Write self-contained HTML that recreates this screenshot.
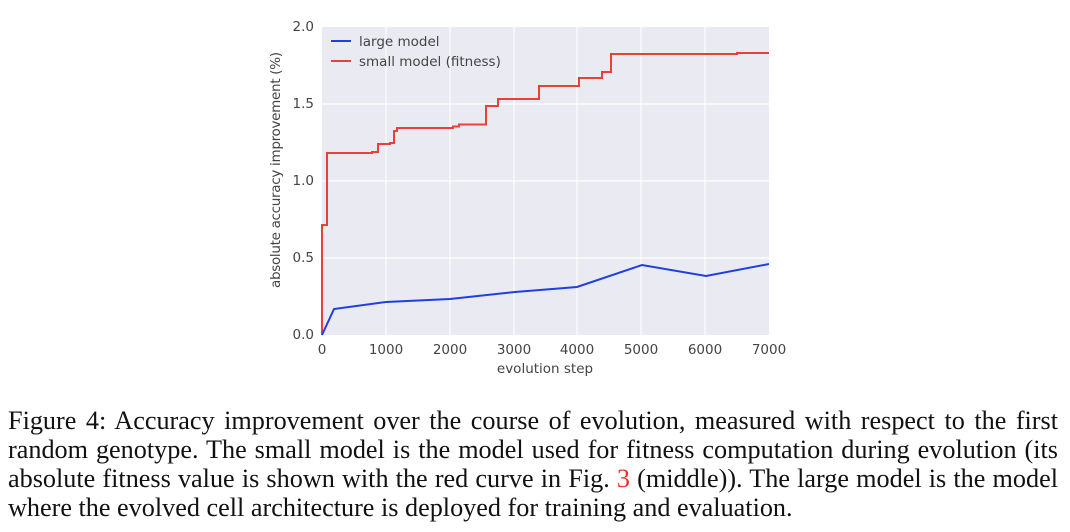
<!DOCTYPE html>
<html><head><meta charset="utf-8"><style>
body{margin:0;background:#fff;width:1070px;height:532px;overflow:hidden;position:relative}
.cap{position:absolute;left:8px;top:406px;width:1050px;font-family:"Liberation Serif",serif;font-size:26.2px;line-height:29px;color:#111}
.cap div{text-align:justify;text-align-last:justify;white-space:nowrap;height:29px}
.cap div.l{text-align-last:left}
</style></head><body>
<svg width="1070" height="400" style="position:absolute;left:0;top:0" font-family="DejaVu Sans, sans-serif" font-size="13.5" fill="#444">
<rect x="322" y="27" width="447" height="308" fill="#eaeaf2"/>
<g stroke="#fff" stroke-width="1.2">
<line x1="386" y1="27" x2="386" y2="335"/><line x1="450" y1="27" x2="450" y2="335"/><line x1="514" y1="27" x2="514" y2="335"/><line x1="577" y1="27" x2="577" y2="335"/><line x1="641" y1="27" x2="641" y2="335"/><line x1="705" y1="27" x2="705" y2="335"/>
<line x1="322" y1="104" x2="769" y2="104"/><line x1="322" y1="181" x2="769" y2="181"/><line x1="322" y1="258" x2="769" y2="258"/>
</g>
<polyline fill="none" stroke="#e8413a" stroke-width="2" points="322,335 322,225 327,225 327,153 372,153 372,152 378,152 378,144 390,144 390,143 394,143 394,131 397,131 397,128 453,128 453,126.5 459,126.5 459,124.5 486,124.5 486,106 498,106 498,99 539,99 539,86 579,86 579,78 602,78 602,72 611,72 611,54 737,54 737,53 769,53"/>
<polyline fill="none" stroke="#1f3fe0" stroke-width="2" points="322,335 334,309 386,302 450,299 515,292 577,287 642,265 706,276 769,264"/>
<line x1="331" y1="41" x2="351" y2="41" stroke="#1f3fe0" stroke-width="2"/>
<line x1="331" y1="61" x2="351" y2="61" stroke="#e8413a" stroke-width="2"/>
<text x="359" y="46">large model</text>
<text x="359" y="66">small model (fitness)</text>
<g text-anchor="end"><text x="314" y="31">2.0</text><text x="314" y="108">1.5</text><text x="314" y="185">1.0</text><text x="314" y="262">0.5</text><text x="314" y="339">0.0</text></g>
<g text-anchor="middle"><text x="322" y="354">0</text><text x="386" y="354">1000</text><text x="450" y="354">2000</text><text x="514" y="354">3000</text><text x="577" y="354">4000</text><text x="641" y="354">5000</text><text x="705" y="354">6000</text><text x="769" y="354">7000</text>
<text x="545" y="373">evolution step</text>
<text transform="translate(280,170) rotate(-90)" textLength="236">absolute accuracy improvement (%)</text></g>
</svg>
<div class="cap">
<div>Figure 4: Accuracy improvement over the course of evolution, measured with respect to the first</div>
<div>random genotype. The small model is the model used for fitness computation during evolution (its</div>
<div>absolute fitness value is shown with the red curve in Fig. <span style="color:#e8302a">3</span> (middle)). The large model is the model</div>
<div class="l">where the evolved cell architecture is deployed for training and evaluation.</div>
</div>
</body></html>
